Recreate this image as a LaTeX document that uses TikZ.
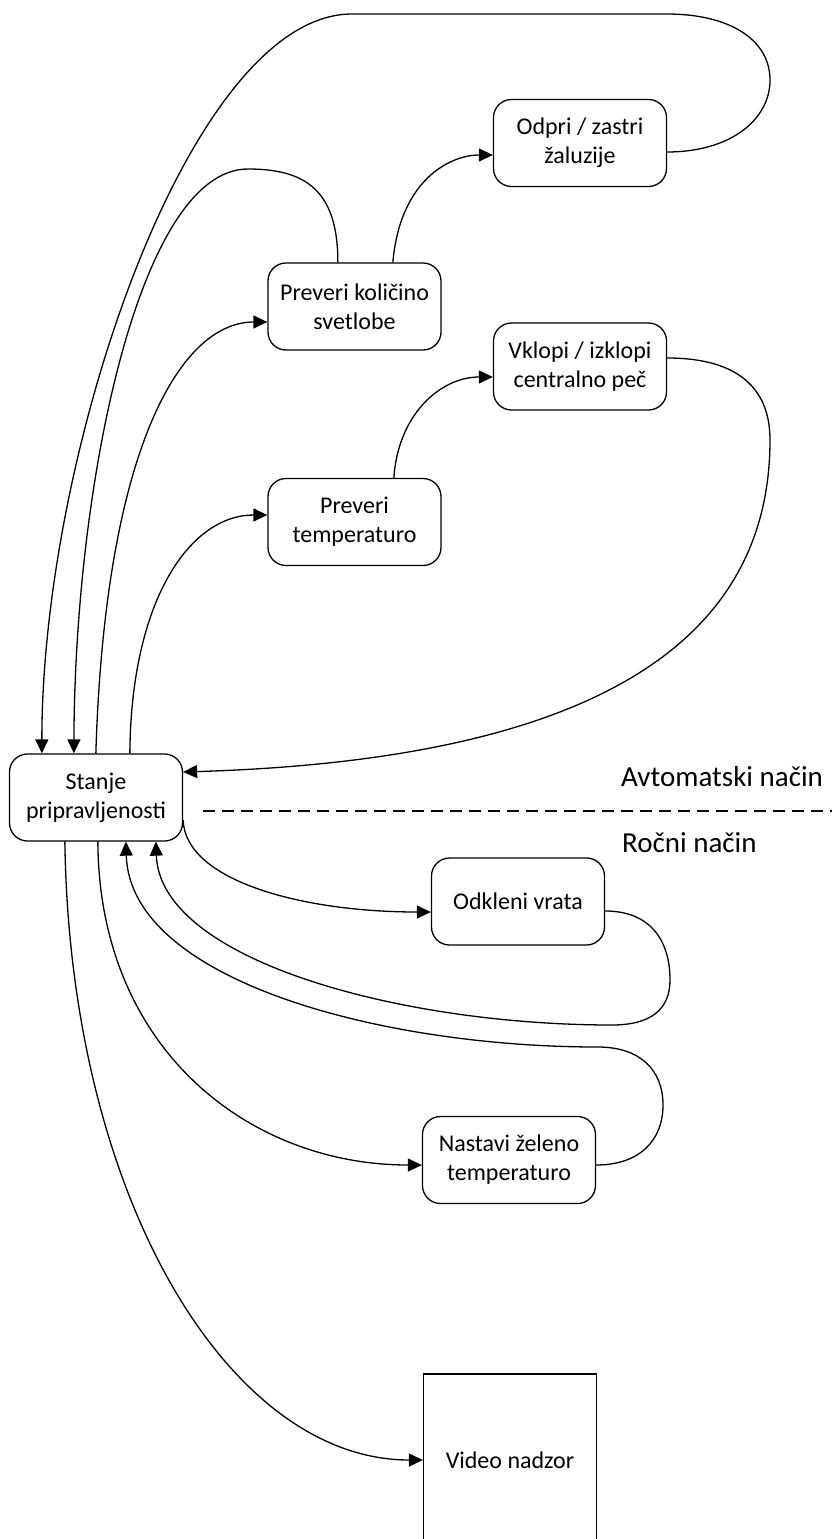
\documentclass[tikz,border=0pt]{standalone}
\usepackage{fontspec}
\setmainfont{Carlito}
\usetikzlibrary{arrows.meta}
\begin{document}
\begin{tikzpicture}[x=1pt,y=-1pt,
  box/.style={draw, line width=1.3pt, rounded corners=18pt, minimum width=173pt, minimum height=87pt, align=center, inner sep=0pt, font=\fontsize{24pt}{29pt}\selectfont},
  plainbox/.style={box, rounded corners=0pt, minimum height=172pt},
  conn/.style={line width=1.3pt},
  arr/.style={conn, -{Triangle[length=14pt,width=13pt]}},
  lbl/.style={anchor=west, inner sep=0pt, font=\fontsize{29pt}{35pt}\selectfont},
  divider/.style={line width=1.3pt, dash pattern=on 12pt off 7pt}]
\useasboundingbox (0,0) rectangle (832,1539);

\node[box] (odpri) at (580,143) {Odpri / zastri\\žaluzije};
\node[box] (pks) at (354.5,306.5) {Preveri količino\\svetlobe};
\node[box] (vklopi) at (580,366.5) {Vklopi / izklopi\\centralno peč};
\node[box] (pt) at (354.5,522) {Preveri\\temperaturo};
\node[box] (stanje) at (96,797.5) {Stanje\\pripravljenosti};
\node[box] (odkleni) at (518,901.5) {Odkleni vrata};
\node[box] (nastavi) at (509,1160) {Nastavi želeno\\temperaturo};
\node[plainbox] (video) at (510,1460) {Video nadzor};

\node[lbl] (avto) at (621,777) {Avtomatski način};
\node[lbl] (rocni) at (622,843) {Ročni način};
\coordinate (dashstart) at (203,811);
\coordinate (dashend) at (832,811);
\draw[divider] (dashstart) -- (dashend);

% top loop: odpri -> stanje
\draw[arr] ([yshift=-9pt]odpri.east) .. controls (730,152) and (770,120) .. (770,80)
  .. controls (770,40) and (730,14) .. (667,14) -- (352,14)
  .. controls (190,14) and ([xshift=33pt]stanje.north west |- 0,450) .. ([xshift=33pt]stanje.north west);

% pks -> stanje
\draw[arr] ([xshift=70.5pt]pks.north west) .. controls (338,190) and (305,169) .. (248,169)
  .. controls (140,169) and (75,480) .. ([xshift=65pt]stanje.north west);

% pks -> odpri
\draw[arr] ([xshift=125.5pt]pks.north west) .. controls (400,180) and (450,155) .. ([yshift=-12pt]odpri.west);

% stanje -> pks
\draw[arr] ([xshift=87pt]stanje.north west) .. controls (105,450) and (180,322) .. ([yshift=-15.5pt]pks.west);

% stanje -> pt
\draw[arr] ([xshift=121pt]stanje.north west) .. controls (131,600) and (190,515) .. ([yshift=7pt]pt.west);

% pt -> vklopi
\draw[arr] ([xshift=126.5pt]pt.north west) .. controls (398,415) and (440,377) .. ([yshift=-10.5pt]vklopi.west);

% vklopi -> stanje
\draw[arr] ([yshift=8.5pt]vklopi.east) .. controls (740,358) and (770,390) .. (770,440)
  .. controls (770,650) and (580,760) .. ([yshift=25.5pt]stanje.east);

% stanje -> odkleni
\draw[arr] ([yshift=-22.5pt]stanje.east) .. controls (185,880) and (300,912) .. ([yshift=-10.5pt]odkleni.west);

% odkleni -> stanje
\draw[arr] ([yshift=-9.5pt]odkleni.east) .. controls (650,911) and (670,940) .. (670,980)
  .. controls (670,1010) and (650,1025) .. (612,1025)
  .. controls (400,1025) and (160,960) .. ([xshift=147pt]stanje.south west);

% nastavi -> stanje
\draw[arr] ([yshift=-5pt]nastavi.east) .. controls (640,1165) and (663,1140) .. (663,1105)
  .. controls (663,1070) and (640,1047) .. (598,1047)
  .. controls (380,1047) and (130,980) .. ([xshift=117pt]stanje.south west);

% stanje -> nastavi
\draw[arr] ([xshift=89pt]stanje.south west) .. controls (99,1050) and (250,1165) .. ([yshift=-5pt]nastavi.west);

% stanje -> video
\draw[arr] ([xshift=56pt]stanje.south west) .. controls (70,1200) and (230,1460) .. (video.west);
\end{tikzpicture}
\end{document}
